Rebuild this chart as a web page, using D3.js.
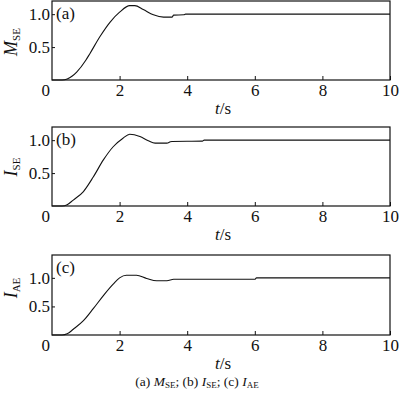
<!DOCTYPE html>
<html>
<head>
<meta charset="utf-8">
<script src="https://cdn.jsdelivr.net/npm/d3@7"></script>
<style>
  body { margin: 0; background: #fff; }
  svg { display: block; font-family: "Liberation Serif", "Times New Roman", serif; }
</style>
</head>
<body>
<div id="chart"></div>
<script>
// time axis
var xTicks = [2, 4, 6, 8, 10];
var yTicks = [0.5, 1.0];

// (a) M_SE
var tA = [0, 0.3, 0.45, 0.6, 0.73, 1.0, 1.12, 1.42, 1.72, 2.0, 2.3, 2.45, 2.7, 3.0, 3.3, 3.55, 3.6, 3.9, 3.95, 10];
var vA = [0, 0, 0.015, 0.06, 0.12, 0.30, 0.40, 0.66, 0.88, 1.03, 1.13, 1.13, 1.07, 0.99, 0.955, 0.955, 0.985, 0.99, 1.0, 1.0];

// (b) I_SE
var tB = [0, 0.3, 0.45, 0.63, 0.93, 1.22, 1.52, 1.81, 2.1, 2.3, 2.6, 2.85, 3.05, 3.4, 3.5, 3.55, 4.45, 4.5, 10];
var vB = [0, 0, 0.02, 0.09, 0.22, 0.44, 0.70, 0.90, 1.03, 1.09, 1.055, 0.99, 0.955, 0.955, 0.975, 0.98, 0.985, 1.0, 1.0];

// (c) I_AE
var tC = [0, 0.3, 0.45, 0.63, 0.93, 1.22, 1.52, 1.81, 2.0, 2.2, 2.5, 2.8, 3.1, 3.4, 3.6, 6.0, 6.05, 10];
var vC = [0, 0, 0.02, 0.1, 0.25, 0.46, 0.69, 0.89, 1.0, 1.045, 1.045, 0.99, 0.95, 0.95, 0.975, 0.975, 1.0, 1.0];

var panels = [
    { tag: "(a)", main: "M", sub: "SE", t: tA, v: vA, top: 1, bottom: 80, ymax: 1.2, labelY: 42 },
    { tag: "(b)", main: "I", sub: "SE", t: tB, v: vB, top: 127, bottom: 206, ymax: 1.2, labelY: 167 },
    { tag: "(c)", main: "I", sub: "AE", t: tC, v: vC, top: 255, bottom: 335, ymax: 1.4, labelY: 288 }
];

var w = 400, h = 394;
var left = 52, right = 390;

var svg = d3.select("#chart")
    .append("svg")
    .attr("width", w)
    .attr("height", h);

var xScale = d3.scaleLinear().domain([0, 10]).range([left, right]);

panels.forEach(function (p) {
    var yScale = d3.scaleLinear().domain([0, p.ymax]).range([p.bottom, p.top]);
    var g = svg.append("g");

    var data = p.t.map(function (t, i) { return { t: t, v: p.v[i] }; });

    var line = d3.line()
        .x(function (d) { return xScale(d.t); })
        .y(function (d) { return yScale(d.v); })
        .curve(d3.curveMonotoneX);

    g.append("path")
        .datum(data)
        .attr("d", line)
        .style("fill", "none")
        .style("stroke", "#111")
        .style("stroke-width", 1.1);

    // x axis
    var xAxis = g.append("g")
        .attr("transform", "translate(0," + p.bottom + ")")
        .call(d3.axisBottom(xScale).tickValues(xTicks).tickSize(-4).tickPadding(4));
    xAxis.select(".domain").remove();
    xAxis.selectAll("line").style("stroke", "#111");
    xAxis.selectAll("text")
        .style("font-size", "17px")
        .style("font-family", "Liberation Serif")
        .style("fill", "#111");

    // y axis
    var yAxis = g.append("g")
        .attr("transform", "translate(" + left + ",0)")
        .call(d3.axisLeft(yScale).tickValues(yTicks).tickSize(-3).tickPadding(2).tickFormat(d3.format(".1f")));
    yAxis.select(".domain").remove();
    yAxis.selectAll("line").style("stroke", "#111");
    yAxis.selectAll("text")
        .style("font-size", "17px")
        .style("font-family", "Liberation Serif")
        .style("fill", "#111");

    // zero at the corner
    g.append("text")
        .attr("x", left - 2)
        .attr("y", p.bottom + 16)
        .attr("text-anchor", "end")
        .style("font-size", "17px")
        .style("fill", "#111")
        .text("0");

    // frame
    g.append("rect")
        .attr("x", left)
        .attr("y", p.top)
        .attr("width", right - left)
        .attr("height", p.bottom - p.top)
        .style("fill", "none")
        .style("stroke", "#111")
        .style("stroke-width", 1.2);

    // panel tag
    g.append("text")
        .attr("x", left + 4)
        .attr("y", p.top + 18)
        .style("font-size", "17px")
        .style("fill", "#111")
        .text(p.tag);

    // y label
    var yl = g.append("text")
        .attr("transform", "translate(17," + p.labelY + ") rotate(-90)")
        .attr("text-anchor", "middle")
        .style("fill", "#111");
    yl.append("tspan").style("font-size", "18px").style("font-style", "italic").text(p.main);
    yl.append("tspan").style("font-size", "11px").attr("dy", 3).text(p.sub);

    // x label
    var xl = g.append("text")
        .attr("x", (left + right) / 2 + 2)
        .attr("y", p.bottom + 34)
        .attr("text-anchor", "middle")
        .style("font-size", "17px")
        .style("fill", "#111");
    xl.append("tspan").style("font-style", "italic").text("t");
    xl.append("tspan").text("/s");
});

// caption
var cap = svg.append("text")
    .attr("x", 197)
    .attr("y", 386)
    .attr("text-anchor", "middle")
    .style("font-size", "13.5px")
    .style("fill", "#111");
var parts = [
    ["(a) ", null, 0], ["M", "i", 0], ["SE", "s", 0], ["; (b) ", null, 0],
    ["I", "i", 0], ["SE", "s", 0], ["; (c) ", null, 0], ["I", "i", 0], ["AE", "s", 0]
];
parts.forEach(function (q, i) {
    var sp = cap.append("tspan").text(q[0]);
    if (q[1] === "i") sp.style("font-style", "italic");
    if (q[1] === "s") sp.style("font-size", "9px").attr("dy", 2);
    if (i > 0 && parts[i - 1][1] === "s") sp.attr("dy", -2);
});
</script>
</body>
</html>
